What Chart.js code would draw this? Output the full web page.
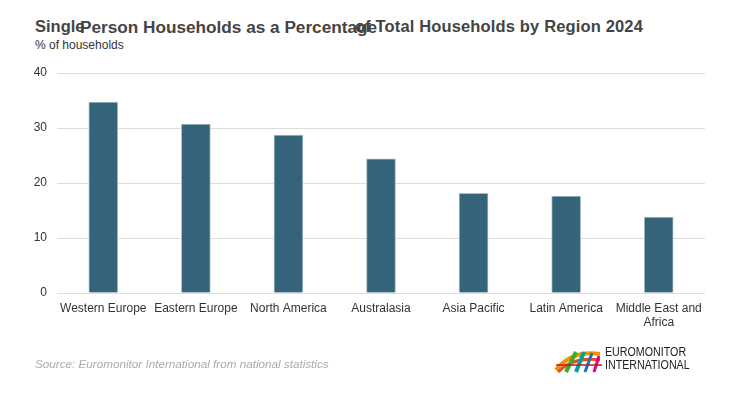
<!DOCTYPE html>
<html>
<head>
<meta charset="utf-8">
<script src="https://cdn.jsdelivr.net/npm/chart.js@4/dist/chart.umd.min.js"></script>
<style>
  html, body { margin: 0; padding: 0; background: #fff; }
  body { width: 734px; height: 404px; position: relative; overflow: hidden;
         font-family: "Liberation Sans", Arial, Helvetica, sans-serif; }
  #chart { position: absolute; left: 0; top: 0; }
  .ttl { position: absolute; top: 17px; font-size: 16.5px; font-weight: bold; color: #444; white-space: nowrap; }
  #subtitle { position: absolute; left: 35px; top: 38px; font-size: 12px; color: #333; }
  #source { position: absolute; left: 35px; top: 357px; font-size: 11.7px; font-style: italic; color: #aaa; }
  #logo { position: absolute; left: 554px; top: 346px; }
  #logotext { position: absolute; left: 605px; top: 346px; font-size: 12px; line-height: 13px; color: #222;
              transform: scaleX(0.89); transform-origin: left top; }
</style>
</head>
<body>
<div class="ttl" style="left:35px">Single</div>
<div class="ttl" style="left:80px; top:16.5px; font-size:17.2px">Person Households as a Percentage</div>
<div class="ttl" style="right:91px; letter-spacing:0.15px">of Total Households by Region 2024</div>
<div id="subtitle">% of households</div>
<canvas id="chart" width="734" height="404"></canvas>
<div id="source">Source: Euromonitor International from national statistics</div>
<svg id="logo" width="50" height="28" viewBox="0 0 50 28">
  <path d="M2 24 Q18 4 46 8" stroke="#f39200" stroke-width="4" fill="none"/>
  <path d="M4 26 Q20 10 46 14" stroke="#e94e1b" stroke-width="3" fill="none"/>
  <path d="M12 26 L22 6" stroke="#3aaa35" stroke-width="4"/>
  <path d="M22 26 L30 6" stroke="#00a19a" stroke-width="4"/>
  <path d="M31 26 L38 7" stroke="#1d71b8" stroke-width="3"/>
  <path d="M40 26 L45 10" stroke="#e6007e" stroke-width="3"/>
  <path d="M2 19 L48 19" stroke="#be1622" stroke-width="1.5"/>
</svg>
<div id="logotext">EUROMONITOR<br>INTERNATIONAL</div>
<script>
const regions = ['Western Europe', 'Eastern Europe', 'North America', 'Australasia',
                 'Asia Pacific', 'Latin America', ['Middle East and', 'Africa']];
const shares = [34.7, 30.7, 28.7, 24.4, 18.1, 17.6, 13.8];
const yTicks = [0, 10, 20, 30, 40];

const BAR = '#34637a';

new Chart(document.getElementById('chart'), {
  type: 'bar',
  data: {
    labels: regions,
    datasets: [{
      data: shares,
      backgroundColor: BAR,
      borderColor: '#a9c1cd',
      borderWidth: 1,
      barThickness: 29,
    }],
  },
  options: {
    responsive: false,
    animation: false,
    layout: { padding: { top: 73, right: 29, bottom: 0, left: 0 } },
    plugins: { legend: { display: false }, tooltip: { enabled: false } },
    scales: {
      x: {
        grid: { display: false, drawTicks: false },
        border: { display: false },
        ticks: { color: '#333', font: { size: 12, family: 'Liberation Sans' }, padding: 8, maxRotation: 0, autoSkip: false },
        afterFit: s => { s.height = 111; },
      },
      y: {
        min: 0, max: 40,
        afterBuildTicks: s => { s.ticks = yTicks.map(v => ({ value: v })); },
        grid: { color: '#dddddd', lineWidth: 1, drawTicks: false },
        border: { display: false },
        ticks: { color: '#333', font: { size: 12, family: 'Liberation Sans' }, padding: 10 },
        afterFit: s => { s.width = 57; },
      },
    },
  },
});
</script>
</body>
</html>
